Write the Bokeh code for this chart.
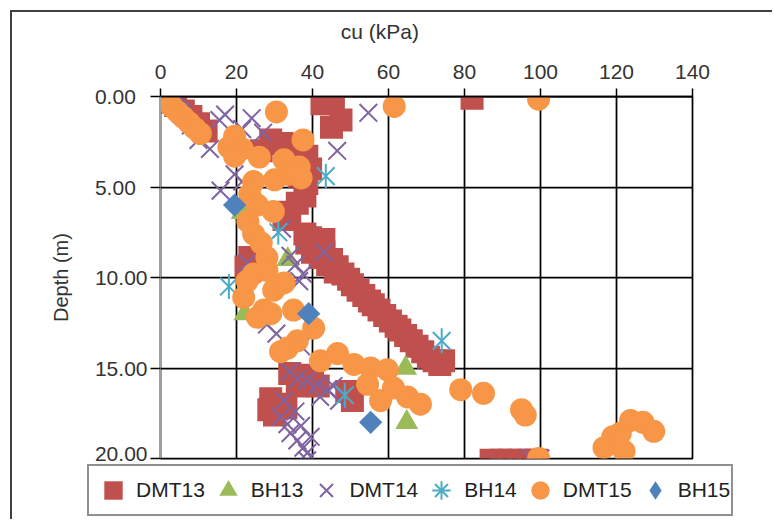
import numpy as np
from bokeh.plotting import figure
from bokeh.layouts import column
from bokeh.models import Range1d, FixedTicker, Legend, LegendItem
from bokeh.embed import file_html
from bokeh.resources import INLINE

# ---------------- data (cu in kPa, depth in m) ----------------
dmt13_cu = [2.0, 4.0, 6.0, 8.0, 10.0, 12.0,
            42.5, 45.5, 47.5, 45.0, 82.0,
            29.0, 32.0, 26.5, 34.0, 38.5, 39.5, 36.5, 38.5, 38.0, 36.0, 34.0, 32.5,
            23.5, 22.5,
            38.0, 39.5, 43.0, 38.5, 41.0, 40.0, 43.0, 42.0, 45.0, 44.0, 46.5, 46.0, 48.0, 49.5,
            50.5, 52.0, 53.5, 55.0, 56.0, 57.5, 59.0, 60.5, 62.0, 63.0, 64.5, 66.0, 67.5,
            69.0, 70.5, 72.0, 73.5, 74.5,
            34.0, 37.0, 40.0, 36.0, 41.5, 49.0, 50.5, 29.0, 31.5, 28.5, 30.0, 33.0,
            87.0, 89.5, 92.0, 94.5, 97.0, 99.0]
dmt13_depth = [0.3, 0.5, 0.8, 1.1, 1.5, 1.9,
               0.4, 0.3, 1.3, 1.7, 0.1,
               2.4, 2.6, 3.0, 3.3, 3.3, 4.0, 4.4, 4.8, 5.5, 5.9, 6.4, 6.8,
               8.9, 9.4,
               7.6, 7.8, 7.9, 8.1, 8.2, 8.6, 8.6, 8.9, 9.0, 9.3, 9.4, 9.7, 9.8, 10.1,
               10.4, 10.7, 11.0, 11.3, 11.5, 11.8, 12.1, 12.4, 12.7, 12.9, 13.2, 13.5, 13.8,
               14.1, 14.4, 14.6, 14.8, 14.6,
               15.3, 15.6, 15.4, 16.0, 16.0, 16.3, 16.8, 16.7, 17.0, 17.3, 17.6, 17.2,
               20.1, 20.1, 20.1, 20.1, 20.1, 20.1]

bh13_cu = [21.5, 33.5, 22.2, 64.5, 64.8]
bh13_depth = [6.4, 9.0, 12.0, 15.0, 18.0]

dmt14_cu = [0.0, 0.5, 5.5, 5.8, 8.0, 10.0, 13.0, 15.5, 17.0, 24.0, 27.0, 21.5,
            54.7, 46.5,
            19.5, 21.5, 15.8, 32.0, 22.8, 34.2, 43.0, 35.5, 36.5, 37.5,
            28.0, 30.5, 37.0,
            34.0, 36.0, 38.5, 41.3, 43.9, 42.0, 45.5, 47.0, 31.6, 33.4, 34.2, 36.0, 37.6,
            38.6, 38.6, 35.5, 37.0, 39.5, 32.5,
            97.5, 100.0]
dmt14_depth = [0.0, 0.6, 0.1, 1.0, 1.6, 2.4, 2.9, 1.3, 1.0, 1.2, 2.0, 1.8,
               0.9, 3.0,
               4.3, 4.7, 5.2, 7.3, 9.2, 8.8, 8.6, 9.3, 10.2, 9.8,
               12.6, 13.1, 13.8,
               15.2, 15.6, 15.7, 15.9, 16.2, 16.6, 16.0, 16.8, 17.7, 18.1, 18.6, 19.0, 19.4,
               19.7, 20.1, 17.4, 18.2, 18.8, 16.8,
               20.0, 20.0]

bh14_cu = [43.5, 31.0, 18.0, 74.0, 48.5]
bh14_depth = [4.4, 7.5, 10.5, 13.5, 16.5]

dmt15_cu = [1.5, 3.0, 4.5, 6.0, 7.5, 9.0, 10.5,
            30.5, 61.5, 99.5,
            19.5, 18.0, 21.5, 19.5, 26.0,
            37.5, 32.5, 36.5, 33.5, 37.0, 30.0,
            24.5, 23.5, 25.5, 29.7, 23.0, 24.5, 26.5, 28.0,
            24.5, 22.8, 29.8, 32.5, 28.0,
            21.9, 27.2, 25.5, 29.0, 35.0, 40.3,
            36.0, 33.4, 31.6, 42.1, 46.6, 50.9, 55.3, 59.7, 54.5, 61.3, 57.9, 65.0, 68.4,
            79.0, 85.0, 95.0, 96.0,
            116.7, 119.0, 121.0, 122.0, 123.7, 127.0, 129.8,
            99.5]
dmt15_depth = [0.25, 0.55, 0.85, 1.15, 1.45, 1.75, 2.05,
               0.85, 0.55, 0.15,
               2.2, 2.8, 2.9, 3.3, 3.35,
               2.4, 3.5, 3.9, 4.3, 4.5, 4.6,
               4.7, 5.4, 6.0, 6.35, 6.9, 7.6, 8.1, 8.9,
               9.8, 10.2, 10.7, 10.3, 9.6,
               11.1, 11.8, 12.2, 12.0, 11.8, 12.8,
               13.5, 13.9, 14.1, 14.6, 14.2, 14.8, 15.0, 15.1, 15.9, 16.1, 16.8, 16.6, 17.0,
               16.2, 16.4, 17.3, 17.6,
               19.4, 18.8, 18.6, 19.6, 17.9, 18.0, 18.5,
               20.0]

bh15_cu = [19.5, 39.0, 55.3]
bh15_depth = [6.0, 12.0, 18.0]

series_names = ["DMT13", "BH13", "DMT14", "BH14", "DMT15", "BH15"]
x_title = "cu (kPa)"
y_title = "Depth (m)"
x_ticks = [0, 20, 40, 60, 80, 100, 120, 140]
y_ticks = [0, 5, 10, 15, 20]
y_tick_labels = ["0.00\u2007", "5.00\u2007", "10.00", "15.00", "20.00"]

FONT = "Liberation Sans"
BORDER = "2px solid #404040"
c13, cb13, c14, cb14, c15, cb15 = "#C0504D", "#9BBB59", "#8064A2", "#4BACC6", "#F79646", "#4F81BD"

# ---------------- main chart ----------------
p = figure(width=762, height=454,
           x_range=Range1d(x_ticks[0], x_ticks[-1]),
           y_range=Range1d(y_ticks[-1], y_ticks[0]),
           x_axis_location="above", y_axis_location="left",
           min_border_left=148, min_border_right=82,
           min_border_top=84, min_border_bottom=8,
           output_backend="svg", toolbar_location=None)
p.margin = (10, 0, 0, 10)
p.styles = {"border-left": BORDER, "border-top": BORDER}
p.outline_line_color = "black"
p.outline_line_width = 1.75
p.background_fill_color = "white"
p.border_fill_color = "white"

p.xgrid.ticker = FixedTicker(ticks=x_ticks[1:-1])
p.ygrid.ticker = FixedTicker(ticks=y_ticks[1:-1])
for g in (p.xgrid[0], p.ygrid[0]):
    g.grid_line_color = "black"
    g.grid_line_width = 1.75

for ax in (p.xaxis[0], p.yaxis[0]):
    ax.minor_tick_line_color = None
    ax.major_tick_in = 0
    ax.major_tick_line_color = "black"
    ax.major_tick_line_width = 1.5
    ax.major_label_text_font = FONT
    ax.major_label_text_font_size = "21px"
    ax.major_label_text_color = "#333333"
    ax.axis_label_text_font = FONT
    ax.axis_label_text_font_style = "normal"
    ax.axis_label_text_color = "#333333"

p.xaxis.ticker = FixedTicker(ticks=x_ticks)
p.xaxis.major_tick_out = 8
p.xaxis.major_label_standoff = 10
p.xaxis.axis_line_color = "black"
p.xaxis.axis_line_width = 1.75
p.xaxis.axis_label = x_title + "\u2007" * 8
p.xaxis.axis_label_text_font_size = "21px"
p.xaxis.axis_label_standoff = 19

p.yaxis.ticker = FixedTicker(ticks=y_ticks)
p.yaxis.major_label_overrides = dict(zip(y_ticks, y_tick_labels))
p.yaxis.major_tick_out = 10
p.yaxis.major_label_standoff = 3
p.yaxis.axis_line_color = "#a0a0a0"
p.yaxis.axis_line_width = 1
p.yaxis.axis_label = y_title
p.yaxis.axis_label_text_font_size = "20px"
p.yaxis.axis_label_standoff = 20

p.scatter(dmt13_cu, dmt13_depth, marker="square", size=23, fill_color=c13, line_color=None)
p.scatter(bh13_cu, bh13_depth, marker="triangle", size=23, fill_color=cb13, line_color=None)
p.scatter(dmt14_cu, dmt14_depth, marker="x", size=25, line_color=c14, line_width=2)
p.scatter(bh14_cu, bh14_depth, marker="x", size=25, line_color=cb14, line_width=2)
p.scatter(bh14_cu, bh14_depth, marker="dash", size=25, angle=np.pi / 2,
          line_color=cb14, line_width=2)
p.scatter(dmt15_cu, dmt15_depth, marker="circle", size=23, fill_color=c15, line_color=None)
p.scatter(bh15_cu, bh15_depth, marker="square", size=16.5, angle=np.pi / 4,
          fill_color=cb15, line_color=None)

# ---------------- legend strip (hidden copies of the series give the keys) ----------------
q = figure(width=762, height=55, x_range=Range1d(0, 1), y_range=Range1d(0, 1),
           x_axis_location=None, y_axis_location=None, min_border=0,
           output_backend="svg", toolbar_location=None)
q.margin = (0, 0, 0, 10)
q.styles = {"border-left": BORDER}
q.outline_line_color = None
q.grid.visible = False
q.background_fill_color = "white"
q.border_fill_color = "white"

if "frame_align" in q.properties():
    q.frame_align = False
    legend_x = 75
else:
    legend_x = -73

k13 = q.scatter(dmt13_cu, dmt13_depth, marker="square", fill_color=c13, line_color=None, visible=False)
kb13 = q.scatter(bh13_cu, bh13_depth, marker="triangle", fill_color=cb13, line_color=None, visible=False)
k14 = q.scatter(dmt14_cu, dmt14_depth, marker="x", line_color=c14, line_width=2, visible=False)
kb14a = q.scatter(bh14_cu, bh14_depth, marker="x", line_color=cb14, line_width=2, visible=False)
kb14b = q.scatter(bh14_cu, bh14_depth, marker="cross", line_color=cb14, line_width=2, visible=False)
k15 = q.scatter(dmt15_cu, dmt15_depth, marker="circle", fill_color=c15, line_color=None, visible=False)
kb15 = q.scatter(bh15_cu, bh15_depth, marker="diamond", fill_color=cb15, line_color=None, visible=False)

legend = Legend(items=[
    LegendItem(label=series_names[0], renderers=[k13]),
    LegendItem(label=series_names[1], renderers=[kb13]),
    LegendItem(label=series_names[2], renderers=[k14]),
    LegendItem(label=series_names[3], renderers=[kb14a, kb14b]),
    LegendItem(label=series_names[4], renderers=[k15]),
    LegendItem(label=series_names[5], renderers=[kb15]),
], location=(legend_x, 3), orientation="horizontal",
    glyph_width=46, glyph_height=46, label_standoff=-13, spacing=0,
    padding=1, margin=0, click_policy="none", inactive_fill_alpha=0,
    border_line_color="#222222", border_line_width=2,
    background_fill_alpha=0,
    label_text_font=FONT, label_text_font_size="21px", label_text_color="#222222")
q.add_layout(legend, "center")

layout = column(p, q, spacing=0)
open("out.html", "w").write(file_html(layout, INLINE))
